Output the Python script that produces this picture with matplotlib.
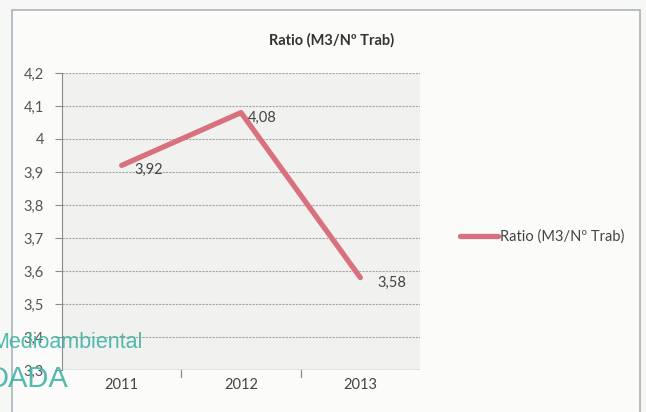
import matplotlib.pyplot as plt
from matplotlib.patches import Rectangle

years = ['2011', '2012', '2013']
ratio = [3.92, 4.08, 3.58]
yticks = [3.3, 3.4, 3.5, 3.6, 3.7, 3.8, 3.9, 4.0, 4.1, 4.2]
ylabels = ['3,3', '3,4', '3,5', '3,6', '3,7', '3,8', '3,9', '4', '4,1', '4,2']
name = 'Ratio (M3/Nº Trab)'

plt.rcParams['font.family'] = ['Lato', 'DejaVu Sans']

fig = plt.figure(figsize=(6.46, 4.12), dpi=100)
fig.patch.set_facecolor('#f7f7f5')

# outer chart frame
frame = Rectangle((12/646, -0.05), 628/646, 1 - 10/412 + 0.05,
                  transform=fig.transFigure, fill=True,
                  facecolor='#fbfbfa', edgecolor='#a9b3bb', lw=1.2)
frame.set_zorder(-10)
fig.patches.append(frame)

ax = fig.add_axes([62/646, 1 - 370/412, 358/646, 297/412])
ax.set_facecolor('#f1f1f0')
x = range(len(years))
line, = ax.plot(x, ratio, color='#d9707e', lw=3.8, solid_capstyle='round', label=name, zorder=3)

ax.set_xlim(-0.5, 2.5)
ax.set_ylim(3.3, 4.2)
ax.set_yticks(yticks)
ax.set_yticklabels(ylabels)
ax.set_xticks(list(x))
ax.set_xticklabels(years)
ax.grid(axis='y', color='#a5a5a5', lw=0.8, ls=(0, (2, 1)))
for s in ['top', 'right', 'bottom']:
    ax.spines[s].set_visible(False)
ax.spines['left'].set_color('#8c8c8c')
ax.axhline(3.3, color='#8c8c8c', lw=0.9)
ax.tick_params(axis='y', length=5, color='#8c8c8c', labelsize=10.5, labelcolor='#555555', pad=8)
ax.tick_params(axis='x', length=0, labelsize=10.5, labelcolor='#444444', pad=6)
for v in [0.5, 1.5]:
    ax.plot([v, v], [3.3, 3.28], color='#8c8c8c', lw=0.9, clip_on=False)

offsets = [(9, -3), (5, -4), (12, -4)]
for i, v in enumerate(ratio):
    ax.annotate(f'{v:.2f}'.replace('.', ','), (i, v), textcoords='offset points',
                xytext=offsets[i], fontsize=10.5, color='#444444', va='center')

fig.text(332/646, 1 - 40/412, name, ha='center', va='center', fontsize=10.5,
         fontweight='bold', color='#333333')

fig.legend(handles=[line], loc='center left', bbox_to_anchor=(447/646, 1 - 237/412),
           frameon=False, fontsize=10.5, handlelength=2.6, handletextpad=0.1,
           labelcolor='#444444')

# watermark stamp
fig.text(-9/646, 1 - 343/412, 'Medioambiental', color='#3fb3a6', fontsize=15.5,
         family='Liberation Sans', alpha=0.9, va='center')
fig.text(-12/646, 1 - 379/412, 'DADA', color='#3fb3a6', fontsize=21,
         family='Liberation Sans', alpha=0.9, va='center')

fig.savefig('out.png', dpi=100, facecolor=fig.get_facecolor())
